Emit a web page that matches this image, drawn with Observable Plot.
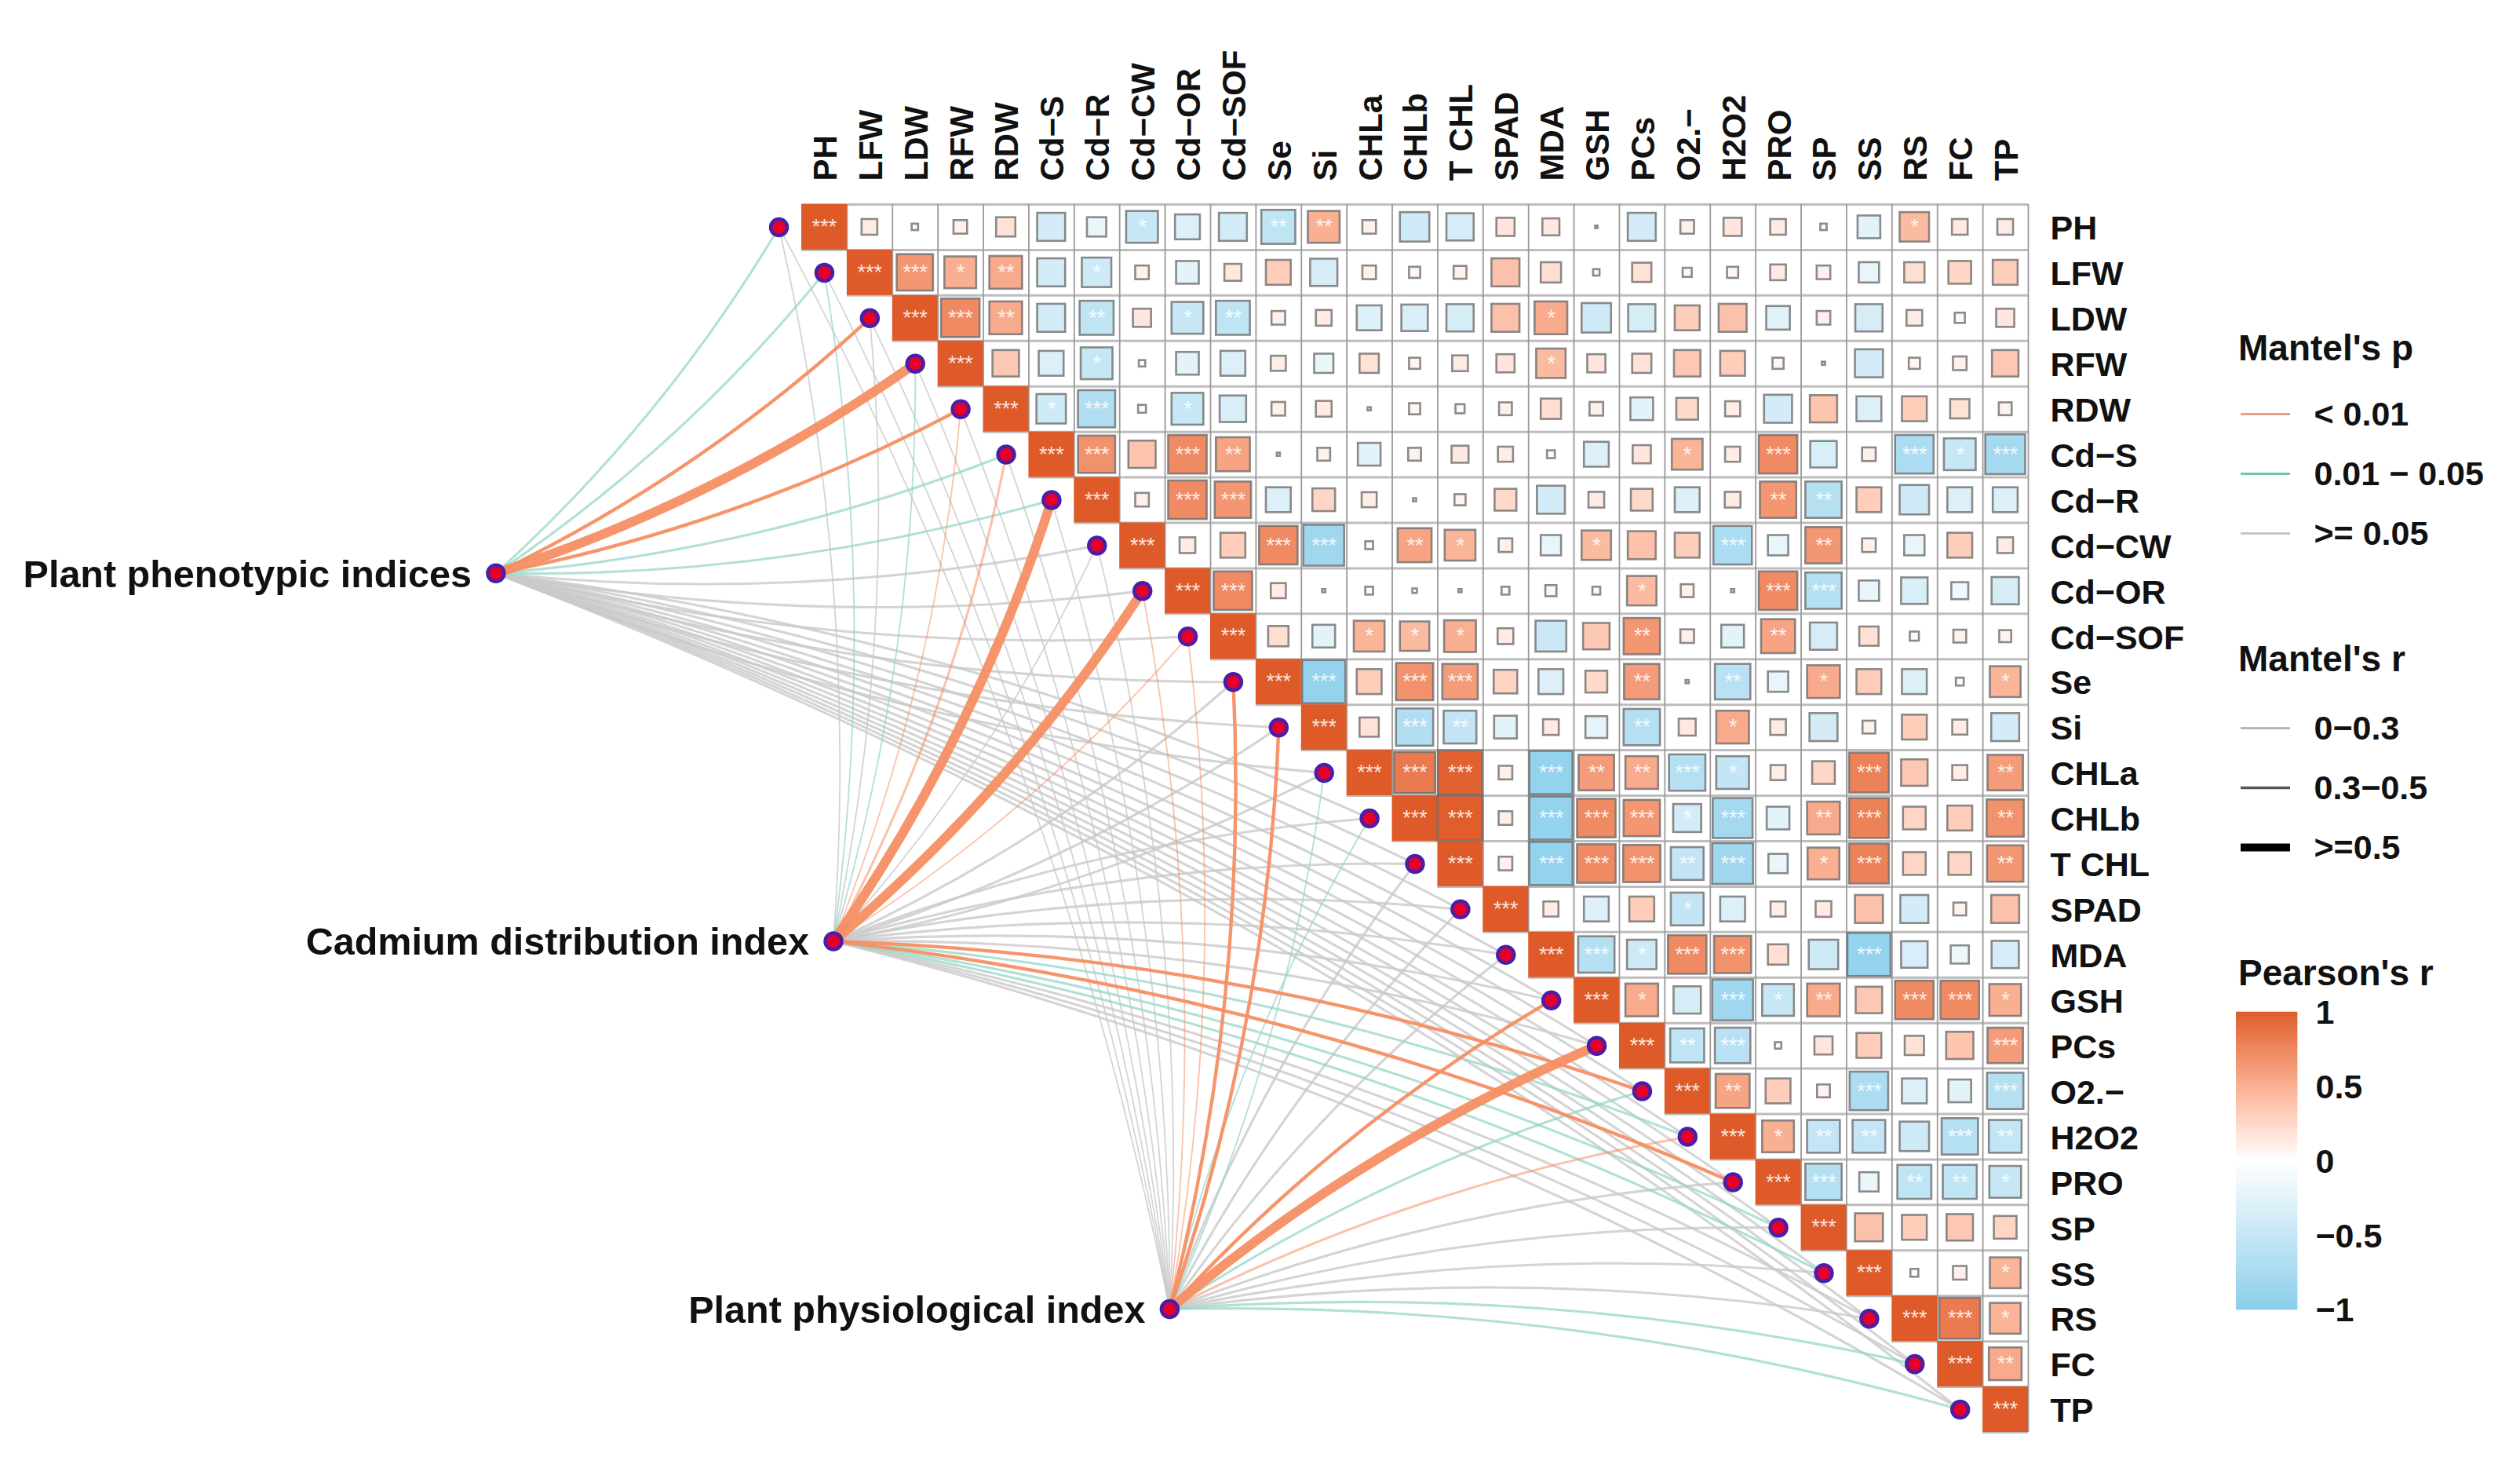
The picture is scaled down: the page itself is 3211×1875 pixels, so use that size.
<!DOCTYPE html>
<html><head><meta charset="utf-8">
<script src="https://cdn.jsdelivr.net/npm/d3@7"></script>
<script src="https://cdn.jsdelivr.net/npm/@observablehq/plot@0.6"></script>
<style>
html,body{margin:0;padding:0;background:#fff;overflow:hidden}
#page{position:relative;width:3211px;height:1875px;font-family:"Liberation Sans",Arial,sans-serif}
#page svg{position:absolute;background:transparent}
.ttl{position:absolute;font-weight:bold;font-size:46px;line-height:50px;left:2852px;white-space:nowrap;color:#111}
</style></head><body><div id="page"></div>
<script>
const traits = ["PH","LFW","LDW","RFW","RDW","Cd−S","Cd−R","Cd−CW","Cd−OR","Cd−SOF","Se","Si","CHLa","CHLb","T CHL","SPAD","MDA","GSH","PCs","O2.−","H2O2","PRO","SP","SS","RS","FC","TP"];

// Pearson's r, upper triangle, each row starting at the diagonal
const pearsonRows = [
[1,.12,.02,.09,.18,-.38,-.18,-.49,-.3,-.38,-.56,.49,.09,-.42,-.36,.16,.14,.003,-.38,.09,.16,.12,.02,-.25,.42,.12,.12],
[1,.64,.49,.52,-.38,-.42,.09,-.25,.14,.3,-.36,.09,.06,.08,.38,.2,.02,.18,.04,.06,.12,.09,-.2,.2,.25,.3],
[1,.72,.52,-.38,-.56,.16,-.49,-.56,.09,.12,-.3,-.34,-.36,.38,.52,-.42,-.36,.3,.38,-.27,.09,-.36,.12,.05,.16],
[1,.34,-.3,-.49,.02,-.25,-.3,.11,-.18,.18,.06,.12,.16,.42,.16,.18,.34,.3,.06,.005,-.38,.06,.09,.34],
[1,-.42,-.67,.03,-.49,-.34,.09,.12,.005,.06,.04,.08,.2,.09,-.25,.23,.11,-.38,.36,-.3,.3,.18,.08],
[1,.67,.36,.72,.56,.005,.08,-.25,.08,.14,.11,.03,-.3,.16,.46,.11,.72,-.34,.09,-.72,-.49,-.77],
[1,.09,.72,.64,-.3,.25,.11,.005,.06,.23,-.38,.12,.23,-.3,.12,.64,-.64,.3,-.42,-.3,-.3],
[1,.12,.3,.72,-.81,.03,.56,.46,.09,-.2,.42,.38,.3,-.72,-.2,.64,.09,-.2,.3,.12],
[1,.72,.11,.005,.03,.01,.005,.03,.06,.03,.42,.08,.005,.72,-.64,-.2,-.34,-.14,-.36],
[1,.2,-.25,.46,.42,.49,.12,-.46,.34,.64,.09,-.25,.56,-.36,.18,.04,.08,.07],
[1,-.9,.3,.67,.61,.27,-.3,.23,.61,.005,-.61,-.2,.52,.3,-.3,.03,.46],
[1,.18,-.67,-.52,-.25,.12,-.23,-.64,.14,.52,.12,-.38,.08,.3,.11,-.38],
[1,.82,.96,.09,-.9,.61,.52,-.64,-.52,.11,.25,.77,.34,.11,.61],
[1,.98,.09,-.9,.72,.64,-.38,-.77,-.25,.52,.77,.25,.3,.67],
[1,.09,-.9,.72,.67,-.52,-.81,-.18,.49,.77,.25,.25,.64],
[1,.11,-.3,.3,-.52,-.3,.11,.12,.38,-.38,.08,.38],
[1,-.64,-.42,.72,.67,.2,-.42,-.9,-.34,-.16,-.36],
[1,.52,-.36,-.81,-.49,.52,.34,.72,.72,.49],
[1,-.56,-.61,.02,.16,.3,.18,.36,.61],
[1,.56,.3,.08,-.72,-.3,-.25,-.64],
[1,.49,-.52,-.52,-.42,-.64,-.52],
[1,-.64,-.18,-.56,-.56,-.49],
[1,.38,.3,.34,.25],
[1,.03,.09,.46],
[1,.81,.46],
[1,.52],
[1]
];
// number of significance stars, same layout
const starRows = ["300000010022000000000000100","33120100000000000000000000","3320201200000010000000000","300100000000010000000000","31301000000000000000000","3303200000000010300313","303300000000000220000","30033021001003020000","3300000000100330000","300111000200200000","33033000202010001","3032000201000000","333032231003002","33033313023002","3033323013002","300010000000","33133003000","3103120331","323000003","32003003","3122032","330221","30000","3001","331","32","3"];

// Mantel tests: three groups against every trait.
// p class: 0 <0.01, 1 0.01-0.05, 2 >=0.05. r class: 0,1 weak, 2 middle, 3 strong (drawn width)
const hubNames = ["Plant phenotypic indices","Cadmium distribution index","Plant physiological index"];
const hubCols = [-7.23, 0.2, 7.6];
const hubRows = [7.61, 15.7, 23.79];
const mantelP = ["110001122222222222222222222","212100020022222222201011222","222222220000112220010222211"];
const mantelR = ["112321111111111111111111111","000001303011111111121211111","000000000022001112311111111"];

const pLabels = ["< 0.01","0.01 − 0.05",">= 0.05"];
const rLabels = ["0−0.3","0.3−0.5",">=0.5"];
const pColors = ["#F58F63","#97D6C6","#C9C9C9"];
const rWidths = [1.8,3.1,4.4,12];
const weakOpacity = [.55,.75,.8];
const legendPColors = ["#F39C84","#6FC7AE","#C4C4C4"];
const legendRColors = ["#A8A8A8","#555555","#000000"];
const legendRWidths = [2.5,3.5,10];
const colorTicks = [-1,-.5,0,.5,1];

const colorScale = {type:"linear",domain:[-1,0,1],range:["#87CEEB","#ffffff","#DE5A28"],interpolate:"lab"};
const font = '"Liberation Sans",Arial,sans-serif';

const n = traits.length;
const cells = pearsonRows.flatMap((vals,row)=>vals.map((r,k)=>({row,col:row+k,r,s:Math.sqrt(Math.abs(r)),stars:+starRows[row][k]})));
const hubs = hubNames.map((name,i)=>({name,col:hubCols[i],row:hubRows[i]}));
const links = hubs.flatMap((h,i)=>traits.map((t,row)=>({hub:h,row,p:+mantelP[i][row],w:rWidths[+mantelR[i][row]]})));
const nodes = traits.map((t,row)=>({col:row-1,row}));

// quadratic arc between a link's two ends, bending to one side of its direction of travel
const arc = sign => ctx => { let p=[]; return {
  lineStart(){p=[]}, point(x,y){p.push([x,y])},
  lineEnd(){ const [[a,b],[c,d]]=p; const dx=c-a,dy=d-b;
    ctx.moveTo(a,b); ctx.quadraticCurveTo((a+c)/2-sign*.075*dy,(b+d)/2+sign*.075*dx,c,d);} }; };

const linkMarks = [2,1,0].flatMap(p=>[true,false].flatMap(weak=>[1,-1].map(sign=>Plot.link(
  links.filter(l=>l.p===p && (l.row<13)===(sign>0) && (l.w<4)===weak),
  {x1:l=>l.hub.col,y1:l=>l.hub.row,x2:l=>l.row-1,y2:l=>l.row,stroke:pColors[p],strokeWidth:l=>l.w,strokeOpacity:weak?weakOpacity[p]:.95,curve:arc(sign)}))));

const idx = d3.range(n);
const main = Plot.plot({
  width:3211,height:1875,marginLeft:0,marginRight:627,marginTop:260,marginBottom:51,
  style:{fontFamily:font,background:"transparent"},
  x:{type:"linear",domain:[-18.137,26.5],range:[0,2584]},
  y:{type:"linear",domain:[-.5,26.5],range:[260,1824]},
  color:colorScale,
  marks:[
    Plot.ruleY(idx,{y:i=>i+.5,x1:i=>i-.5,x2:26.5,stroke:"#BDBDBD",strokeWidth:3}),
    Plot.ruleY([0],{y:-.5,x1:-.5,x2:26.5,stroke:"#BDBDBD",strokeWidth:3}),
    Plot.ruleX(idx,{x:i=>i+.5,y1:-.5,y2:i=>i+.5,stroke:"#9A9A9A",strokeWidth:1.8}),
    Plot.rect(cells,{x1:d=>d.col-d.s/2,x2:d=>d.col+d.s/2,y1:d=>d.row-d.s/2,y2:d=>d.row+d.s/2,fill:"r",
      stroke:d=>d.s>=1?"none":"#6E6E6E",strokeWidth:2.6,strokeOpacity:.8}),
    Plot.text(cells.filter(d=>d.stars>0),{x:"col",y:"row",text:d=>"*".repeat(d.stars),fill:"#FFFFFF",fillOpacity:.85,fontSize:27,dy:0}),
    ...linkMarks,
    Plot.dot(nodes,{x:"col",y:"row",r:10.5,fill:"#E6002A",stroke:"#4A1FA8",strokeWidth:4.5}),
    Plot.dot(hubs,{x:"col",y:"row",r:10.5,fill:"#E6002A",stroke:"#4A1FA8",strokeWidth:4.5}),
    Plot.text(hubs,{x:"col",y:"row",text:"name",textAnchor:"end",dx:-31,dy:2,fontSize:48.5,fontWeight:"bold",fill:"#111"}),
    Plot.axisX({anchor:"top",ticks:idx,tickFormat:i=>traits[i],tickRotate:-90,tickSize:0,tickPadding:30,fontSize:42,fontWeight:"bold",label:null,fill:"#111",dx:2}),
    Plot.axisY({anchor:"right",ticks:idx,tickFormat:i=>traits[i],tickSize:0,tickPadding:28,fontSize:43,fontWeight:"bold",label:null,fill:"#111",dy:2})
  ]});
const page = document.getElementById("page");
main.style.left="0";main.style.top="0";page.appendChild(main);

function place(el,left,top){el.style.left=left+"px";el.style.top=top+"px";page.appendChild(el);}
function title(t,cy){const d=document.createElement("div");d.className="ttl";d.textContent=t;d.style.top=(cy-25)+"px";page.appendChild(d);}
function lineLegend(labels,colors,widths,firstY){
  const p=Plot.plot({width:361,height:220,marginLeft:5,marginRight:293,marginTop:30,marginBottom:38,
    style:{fontFamily:font,background:"transparent"},
    x:{domain:[0,1],axis:null},
    y:{type:"point",domain:labels,range:[30,182],padding:0},
    marks:[
      ...labels.map((l,i)=>Plot.ruleY([l],{y:d=>d,x1:0,x2:1,stroke:colors[i],strokeWidth:widths[i]})),
      Plot.axisY({anchor:"right",tickSize:0,tickPadding:30,fontSize:43,fontWeight:"bold",label:null,fill:"#111",dy:1})
    ]});
  place(p,2850,firstY-30);
}
title("Mantel's p",443);
lineLegend(pLabels,legendPColors,[3,3,3],527);
title("Mantel's r",839);
lineLegend(rLabels,legendRColors,legendRWidths,927);
title("Pearson's r",1239);
const steps=d3.range(-1,1,.01);
const ramp=Plot.plot({width:361,height:440,marginLeft:0,marginRight:283,marginTop:30,marginBottom:31,
  style:{fontFamily:font,background:"transparent"},
  x:{domain:[0,1],axis:null},
  y:{domain:[-1,1],range:[409,30]},
  color:colorScale,
  marks:[
    Plot.rect(steps,{x1:0,x2:1,y1:d=>d,y2:d=>d+.01,fill:d=>d,stroke:d=>d,strokeWidth:.6}),
    Plot.axisY({anchor:"right",ticks:colorTicks,tickFormat:d=>String(d).replace("-","−"),tickSize:0,tickPadding:23,fontSize:43,fontWeight:"bold",label:null,fill:"#111",dy:1})
  ]});
place(ramp,2849,1259);
</script></body></html>
